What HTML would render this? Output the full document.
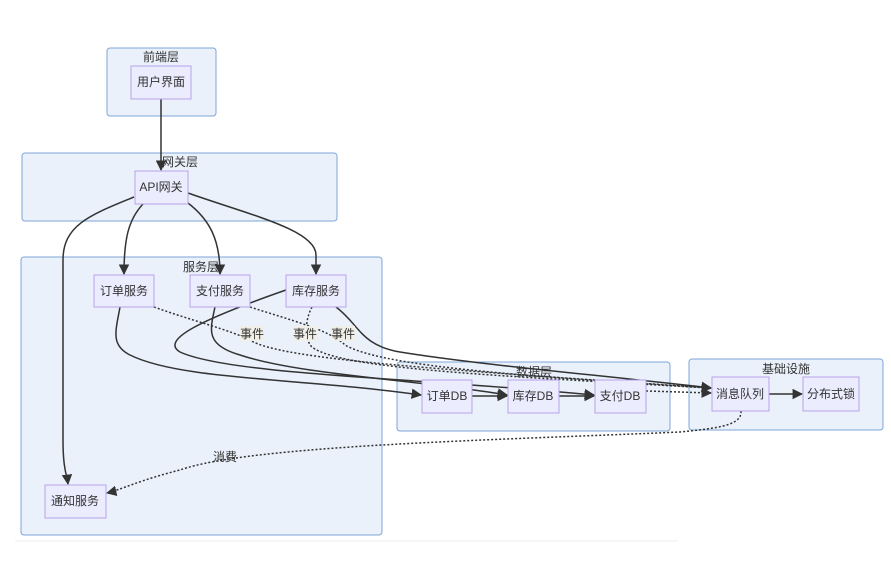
<!DOCTYPE html>
<html><head><meta charset="utf-8"><style>
html,body{margin:0;padding:0;background:#fff;}
svg{display:block;}
text{font-family:"Liberation Sans","Noto Sans CJK SC",sans-serif;font-size:12px;fill:#333;}
.cl{fill:#eaf1fb;stroke:#7ea6d8;stroke-width:1;}
.nd{fill:#ececff;stroke:#b9a2e8;stroke-width:1;}
.e{fill:none;stroke:#333;stroke-width:1.5;}
.d{fill:none;stroke:#333;stroke-width:1.5;stroke-dasharray:2,2;}
.lb{fill:#f0efe8;}
</style></head><body>
<svg width="891" height="564" viewBox="0 0 891 564" xmlns="http://www.w3.org/2000/svg">
<defs><marker id="a" viewBox="0 0 10 10" refX="9" refY="5" markerWidth="7" markerHeight="7" orient="auto"><path d="M0,0L10,5L0,10z" fill="#333"/></marker></defs>
<line x1="15" y1="541" x2="678" y2="541" stroke="#eee"/>
<rect class="cl" x="107" y="48" width="109" height="68" rx="3"/>
<text x="161" y="61" text-anchor="middle">前端层</text>
<rect class="cl" x="22" y="153" width="315" height="68" rx="3"/>
<text x="180" y="166" text-anchor="middle">网关层</text>
<rect class="cl" x="21" y="257" width="361" height="278" rx="3"/>
<text x="201" y="271" text-anchor="middle">服务层</text>
<rect class="cl" x="397" y="362" width="273" height="69" rx="3"/>
<text x="534" y="376" text-anchor="middle">数据层</text>
<rect class="cl" x="689" y="359" width="194" height="71" rx="3"/>
<text x="786" y="373" text-anchor="middle">基础设施</text>

<path class="e" d="M161,99 L161,170" marker-end="url(#a)"/>
<path class="e" d="M143,204 C128,220 124,240 124,274" marker-end="url(#a)"/>
<path class="e" d="M188,203 C210,220 220,240 220,274" marker-end="url(#a)"/>
<path class="e" d="M188,193 C250,215 316,230 316,255 L316,274" marker-end="url(#a)"/>
<path class="e" d="M134,197 C90,215 63,225 63,260 L63,440 C63,470 67,475 68,484" marker-end="url(#a)"/>
<path class="e" d="M120,307 C116,330 110,345 130,355 C180,380 300,378 421,395" marker-end="url(#a)"/>
<path class="e" d="M215,307 C210,330 205,345 240,355 C300,375 420,380 507,395" marker-end="url(#a)"/>
<path class="e" d="M286,290 C200,320 160,340 180,352 C230,375 420,378 594,395" marker-end="url(#a)"/>
<path class="e" d="M336,307 C360,325 360,345 400,352 C480,365 600,375 711,388" marker-end="url(#a)"/>
<path class="d" d="M154,307 C190,320 230,330 250,340 C280,360 450,370 711,388" marker-end="url(#a)"/>
<path class="d" d="M250,307 C290,320 330,330 345,345 C380,365 500,375 711,388" marker-end="url(#a)"/>
<path class="d" d="M312,307 C305,320 305,335 310,345 C330,368 480,375 711,388" marker-end="url(#a)"/>
<path class="e" d="M472,396 L507,396" marker-end="url(#a)"/>
<path class="e" d="M559,396 L594,396" marker-end="url(#a)"/>
<path class="d" d="M646,391 L711,393" marker-end="url(#a)"/>
<path class="e" d="M769,394 L802,394" marker-end="url(#a)"/>
<path class="d" d="M741,411 C742,425 720,428 680,432 C500,440 250,445 180,470 C140,480 120,490 107,493" marker-end="url(#a)"/>

<rect class="lb" x="240" y="326" width="24" height="15"/><text x="252" y="338" text-anchor="middle">事件</text>
<rect class="lb" x="293" y="326" width="24" height="15"/><text x="305" y="338" text-anchor="middle">事件</text>
<rect class="lb" x="331" y="326" width="24" height="15"/><text x="343" y="338" text-anchor="middle">事件</text>
<text x="225" y="461" text-anchor="middle">消费</text>

<rect class="nd" x="131" y="66" width="60" height="33"/><text x="161" y="86" text-anchor="middle">用户界面</text>
<rect class="nd" x="135" y="171" width="53" height="33"/><text x="161" y="191" text-anchor="middle">API网关</text>
<rect class="nd" x="94" y="275" width="60" height="32"/><text x="124" y="295" text-anchor="middle">订单服务</text>
<rect class="nd" x="190" y="275" width="60" height="32"/><text x="220" y="295" text-anchor="middle">支付服务</text>
<rect class="nd" x="286" y="275" width="60" height="32"/><text x="316" y="295" text-anchor="middle">库存服务</text>
<rect class="nd" x="45" y="485" width="61" height="33"/><text x="75" y="505" text-anchor="middle">通知服务</text>
<rect class="nd" x="422" y="380" width="50" height="33"/><text x="447" y="400" text-anchor="middle">订单DB</text>
<rect class="nd" x="508" y="380" width="51" height="33"/><text x="533" y="400" text-anchor="middle">库存DB</text>
<rect class="nd" x="595" y="380" width="51" height="33"/><text x="620" y="400" text-anchor="middle">支付DB</text>
<rect class="nd" x="712" y="377" width="57" height="34"/><text x="740" y="398" text-anchor="middle">消息队列</text>
<rect class="nd" x="803" y="377" width="56" height="34"/><text x="831" y="398" text-anchor="middle">分布式锁</text>
</svg>
</body></html>
